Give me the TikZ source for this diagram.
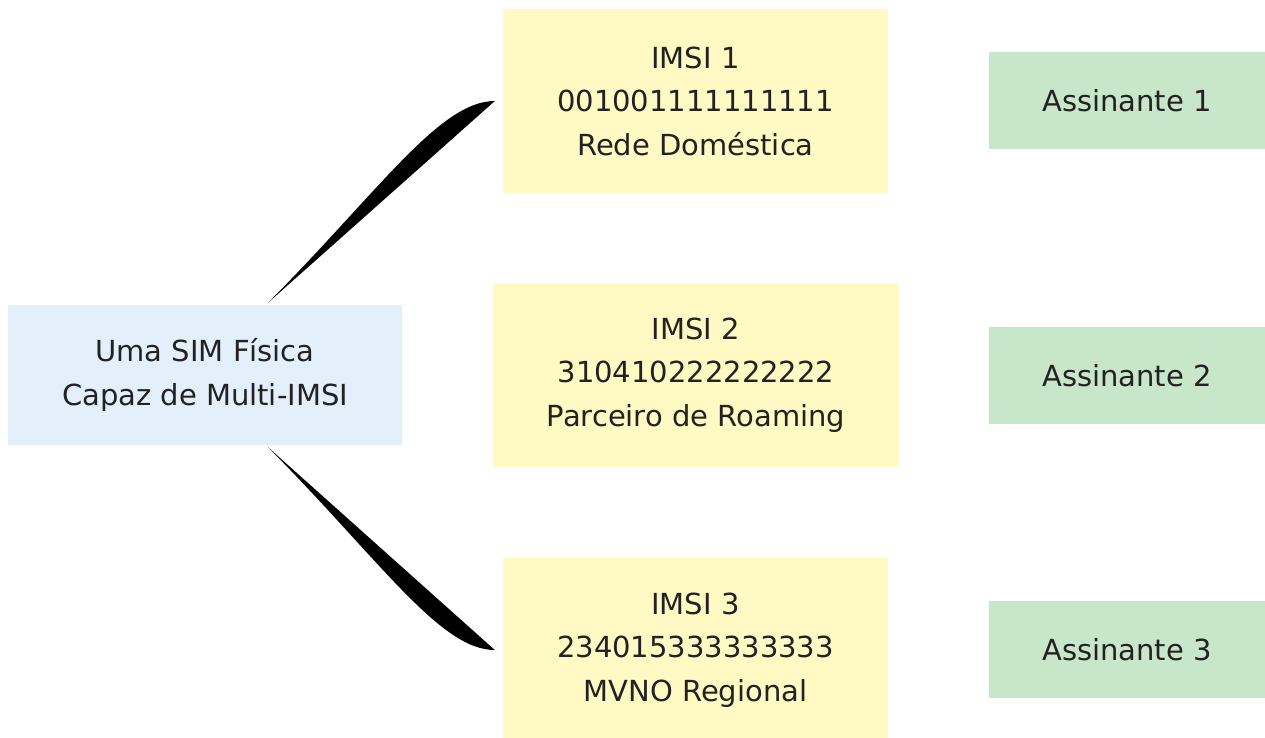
\documentclass[tikz,border=0pt]{standalone}
\usepackage{fontspec}
\setmainfont{DejaVu Sans}
\usepackage{xcolor}
\usepackage{tikz}
\usetikzlibrary{calc,positioning}
\definecolor{SimBlue}{HTML}{E3F0FB}
\definecolor{ImsiYellow}{HTML}{FFF9C4}
\definecolor{SubGreen}{HTML}{C8E6C9}
\definecolor{TextDark}{HTML}{222222}

\tikzset{
  simbox/.style={fill=SimBlue, minimum width=394pt, minimum height=140pt},
  imsibox/.style={fill=ImsiYellow, minimum width=385pt, minimum height=184pt},
  subbox/.style={fill=SubGreen, minimum width=276pt, minimum height=97pt},
  every node/.style={align=center, inner sep=0pt, text=TextDark,
    font=\fontsize{29}{43.5}\selectfont},
}

\begin{document}
\begin{tikzpicture}[x=1pt, y=-1pt]
\useasboundingbox (0,0) rectangle (1265,737);
\node[simbox] (sim) at (205,375) {Uma SIM Física\\Capaz de Multi-IMSI};
\node[imsibox] (imsi1) at (695.5,101) {IMSI 1\\001001111111111\\Rede Doméstica};
\node[imsibox, minimum width=406pt] (imsi2) at (696,375) {IMSI 2\\310410222222222\\Parceiro de Roaming};
\node[imsibox] (imsi3) at (695.5,650) {IMSI 3\\234015333333333\\MVNO Regional};
\node[subbox] (sub1) at (1127,100.5) {Assinante 1};
\node[subbox] (sub2) at (1127,375.5) {Assinante 2};
\node[subbox] (sub3) at (1127,649.5) {Assinante 3};
% tapered links
\coordinate (t1) at ([xshift=63pt, yshift=2pt]sim.north);
\coordinate (e1) at ([xshift=-8pt]imsi1.west);
\coordinate (t3) at ([xshift=63pt, yshift=-2pt]sim.south);
\coordinate (e3) at ([xshift=-8pt]imsi3.west);
\fill[black] (t1) .. controls (380,190) and (440,101) .. (e1) -- cycle;
\fill[black] (t3) .. controls (380,560) and (440,650) .. (e3) -- cycle;
\end{tikzpicture}
\end{document}
